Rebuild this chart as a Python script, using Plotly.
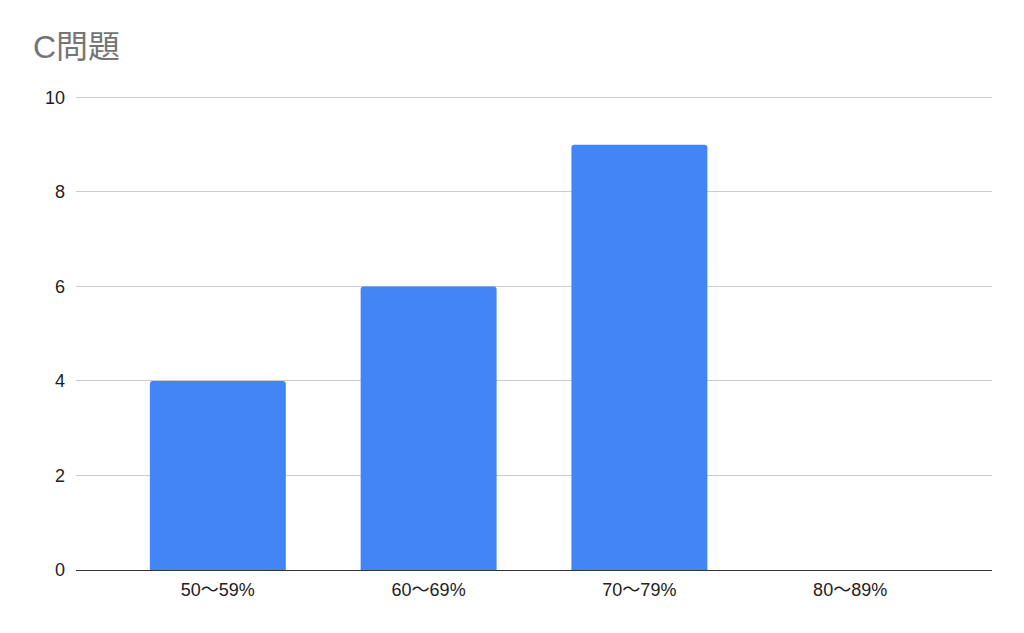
import plotly.graph_objects as go

categories = ["50〜59%", "60〜69%", "70〜79%", "80〜89%"]
values = [4, 6, 9, 0]
y_ticks = [0, 2, 4, 6, 8, 10]

FONT = "Arial, 'Liberation Sans', 'Noto Sans CJK JP', sans-serif"

fig = go.Figure(go.Bar(x=categories, y=values, marker=dict(color="#4285F4", line=dict(width=0)),
                       width=0.645))
fig.update_layout(
    width=1024, height=633,
    paper_bgcolor="white", plot_bgcolor="white",
    margin=dict(l=68, r=40, t=87, b=71),
    barcornerradius=3,
    title=dict(text="C問題", x=25/1024, xanchor="left", y=1-39/633, yanchor="middle",
               font=dict(family=FONT, size=32, color="#757575")),
    font=dict(family=FONT, size=18, color="#222222"),
    showlegend=False,
)
fig.update_xaxes(type="category", range=[-0.673, 3.673], showgrid=False, showline=True,
                 linecolor="#333333", linewidth=1.3, ticks="", ticklabelstandoff=3)
fig.update_yaxes(range=[0, 10.05], tickvals=y_ticks, showgrid=True, gridcolor="#cccccc", gridwidth=1,
                 zeroline=False, showline=False, ticks="", ticklabelstandoff=10)
fig.write_html("out.html")
